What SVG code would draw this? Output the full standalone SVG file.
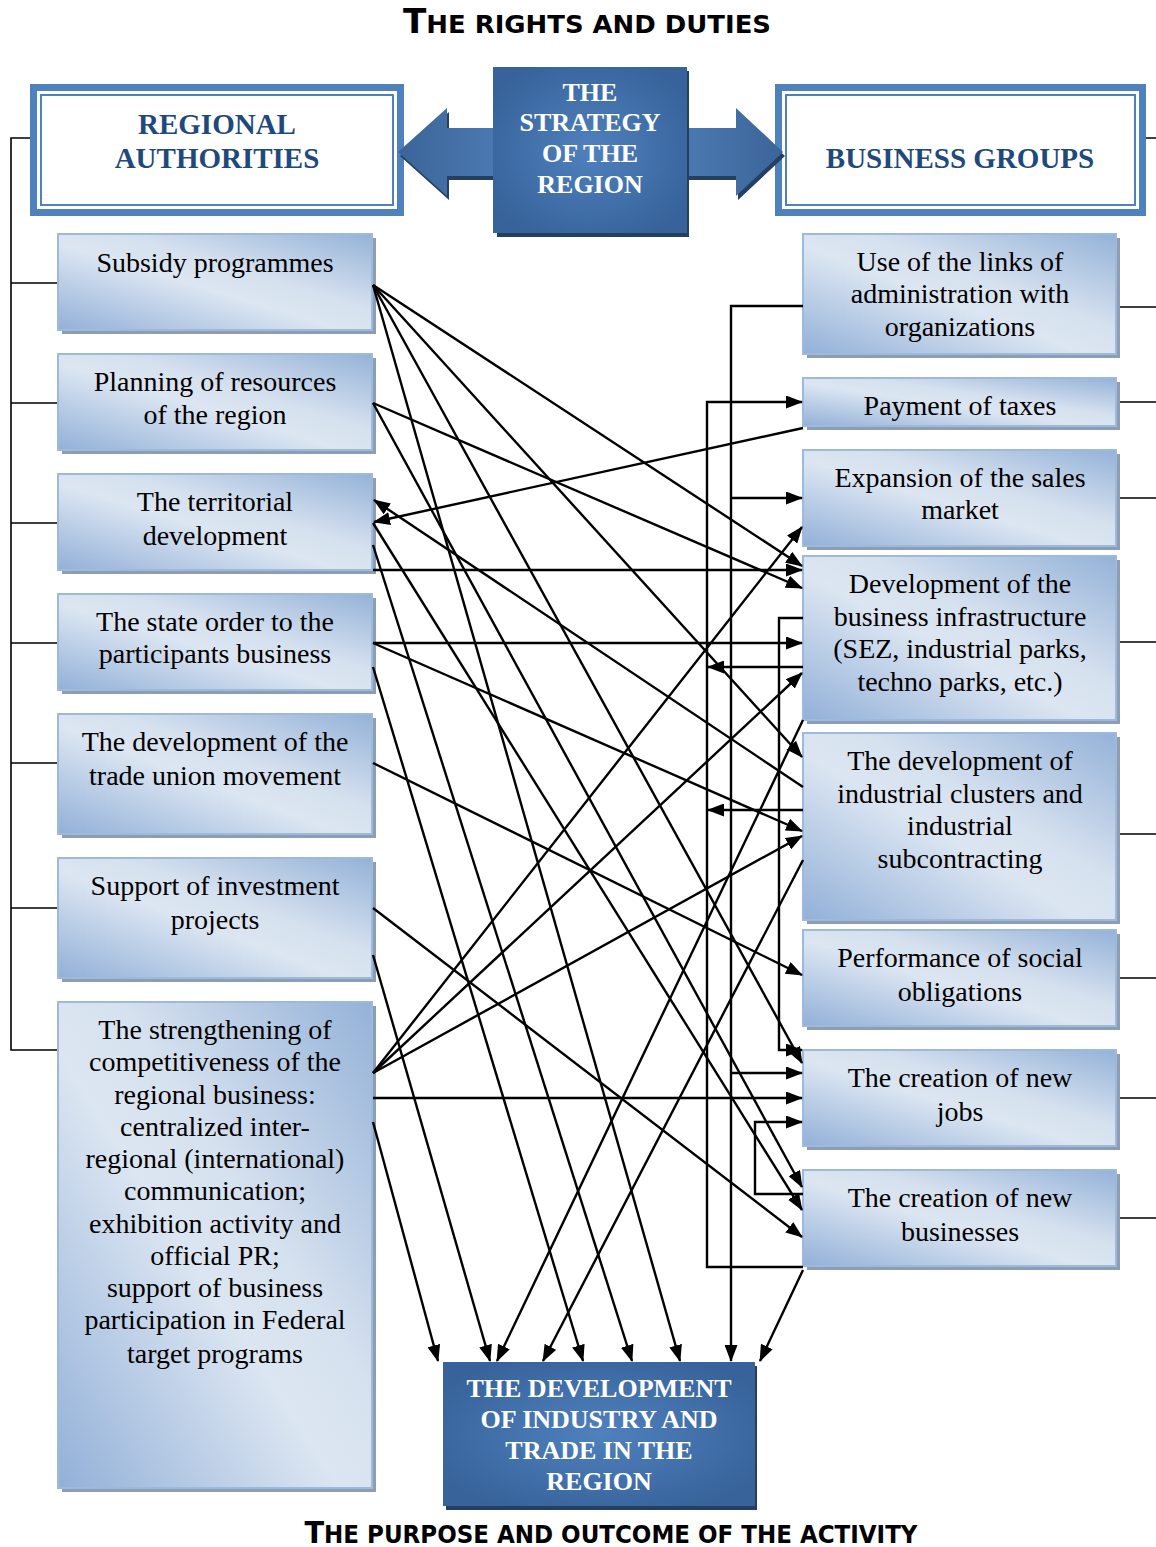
<svg xmlns="http://www.w3.org/2000/svg" width="1156" height="1547" viewBox="0 0 1156 1547">
<style>
.lt{font-family:"Liberation Serif","Times New Roman",serif;font-size:28px;fill:#000;text-anchor:middle}
.hd{font-family:"Liberation Serif","Times New Roman",serif;font-weight:bold;font-size:29px;fill:#1f497d;text-anchor:middle}
.wt{font-family:"Liberation Serif","Times New Roman",serif;font-weight:bold;font-size:26px;fill:#fff;text-anchor:middle}
.cap{font-family:"Liberation Sans Narrow","DejaVu Sans Condensed","Liberation Sans",sans-serif;font-weight:bold;fill:#000;text-anchor:middle}
.sh{fill:#8c9db5}
.bx{fill:url(#lg);stroke:#9db9dc;stroke-width:2}
.c{stroke:#000;stroke-width:2.4;fill:none}
.ca{marker-end:url(#ah)}
.br{stroke:#000;stroke-width:1.6;fill:none}
</style>
<defs>
<linearGradient id="lg" x1="0" y1="1" x2="1" y2="0">
<stop offset="0" stop-color="#92b0d8"/>
<stop offset="0.45" stop-color="#dce6f2"/>
<stop offset="0.6" stop-color="#d6e1ef"/>
<stop offset="1" stop-color="#94b2d8"/>
</linearGradient>
<radialGradient id="rg" cx="0.5" cy="0.5" r="0.6">
<stop offset="0" stop-color="#4f81bd"/>
<stop offset="1" stop-color="#37629a"/>
</radialGradient>
<linearGradient id="ag" x1="0" y1="0" x2="1" y2="0">
<stop offset="0" stop-color="#3b6599"/>
<stop offset="0.5" stop-color="#5a8bc7"/>
<stop offset="1" stop-color="#3b6599"/>
</linearGradient>
<marker id="ah" markerUnits="userSpaceOnUse" markerWidth="17" markerHeight="13" refX="16" refY="6.5" orient="auto">
<path d="M0,0 L17,6.5 L0,13 z" fill="#000"/>
</marker>
</defs>

<text class="cap" x="587" y="33" textLength="368" lengthAdjust="spacingAndGlyphs"><tspan font-size="33">T</tspan><tspan font-size="25">HE RIGHTS AND DUTIES</tspan></text>
<text class="cap" x="611" y="1543" textLength="613" lengthAdjust="spacingAndGlyphs"><tspan font-size="30">T</tspan><tspan font-size="24">HE PURPOSE AND OUTCOME OF THE ACTIVITY</tspan></text>

<g id="bracket-left">
<path class="br" d="M30,138 H11 V1050 H58 M11,283 H58 M11,403 H58 M11,523 H58 M11,643 H58 M11,763 H58 M11,908 H58"/>
</g>
<g id="ticks-right">
<path class="br" d="M1146,138 H1156 M1118,307 H1156 M1118,402 H1156 M1118,498 H1156 M1118,642 H1156 M1118,834 H1156 M1118,978 H1156 M1118,1098 H1156 M1118,1218 H1156"/>
</g>

<g id="regional-authorities">
<rect x="30" y="84" width="374" height="132" fill="#4f81bd"/>
<rect x="37" y="91" width="360" height="118" fill="#fff"/>
<rect x="41" y="95" width="352" height="110" fill="#fff" stroke="#4f81bd" stroke-width="2"/>
<text class="hd" x="217" y="134">REGIONAL</text>
<text class="hd" x="217" y="168">AUTHORITIES</text>
</g>
<g id="business-groups">
<rect x="775" y="84" width="371" height="132" fill="#4f81bd"/>
<rect x="782" y="91" width="357" height="118" fill="#fff"/>
<rect x="786" y="95" width="349" height="110" fill="#fff" stroke="#4f81bd" stroke-width="2"/>
<text class="hd" x="960" y="168">BUSINESS GROUPS</text>
</g>
<g id="strategy">
<polygon points="400,156 449,112 449,132 738,132 738,112 785,156 738,200 738,180 449,180 449,200" fill="#243f60"/>
<polygon points="398,152 447,108 447,128 736,128 736,108 783,152 736,196 736,176 447,176 447,196" fill="url(#ag)"/>
<rect x="497" y="71" width="192" height="166" fill="#243f60"/>
<rect x="493" y="67" width="194" height="166" fill="url(#rg)"/>
<text class="wt" x="590" y="101">THE</text>
<text class="wt" x="590" y="131">STRATEGY</text>
<text class="wt" x="590" y="162">OF THE</text>
<text class="wt" x="590" y="193">REGION</text>
</g>

<g id="subsidy"><rect class="sh" x="62" y="238" width="314" height="96"/><rect class="bx" x="58" y="234" width="314" height="96"/>
<text class="lt" x="215" y="272">Subsidy programmes</text></g>
<g id="planning"><rect class="sh" x="62" y="358" width="314" height="96"/><rect class="bx" x="58" y="354" width="314" height="96"/>
<text class="lt" x="215" y="391">Planning of resources</text><text class="lt" x="215" y="424">of the region</text></g>
<g id="territorial"><rect class="sh" x="62" y="478" width="314" height="96"/><rect class="bx" x="58" y="474" width="314" height="96"/>
<text class="lt" x="215" y="511">The territorial</text><text class="lt" x="215" y="545">development</text></g>
<g id="state-order"><rect class="sh" x="62" y="598" width="314" height="96"/><rect class="bx" x="58" y="594" width="314" height="96"/>
<text class="lt" x="215" y="631">The state order to the</text><text class="lt" x="215" y="663">participants business</text></g>
<g id="trade-union"><rect class="sh" x="62" y="718" width="314" height="120"/><rect class="bx" x="58" y="714" width="314" height="120"/>
<text class="lt" x="215" y="751">The development of the</text><text class="lt" x="215" y="785">trade union movement</text></g>
<g id="support"><rect class="sh" x="62" y="862" width="314" height="120"/><rect class="bx" x="58" y="858" width="314" height="120"/>
<text class="lt" x="215" y="895">Support of investment</text><text class="lt" x="215" y="929">projects</text></g>
<g id="strengthening"><rect class="sh" x="62" y="1006" width="314" height="486"/><rect class="bx" x="58" y="1002" width="314" height="486"/>
<text class="lt" x="215" y="1039">The strengthening of</text>
<text class="lt" x="215" y="1071">competitiveness of the</text>
<text class="lt" x="215" y="1104">regional business:</text>
<text class="lt" x="215" y="1136">centralized inter-</text>
<text class="lt" x="215" y="1168">regional (international)</text>
<text class="lt" x="215" y="1200">communication;</text>
<text class="lt" x="215" y="1233">exhibition activity and</text>
<text class="lt" x="215" y="1265">official PR;</text>
<text class="lt" x="215" y="1297">support of business</text>
<text class="lt" x="215" y="1329">participation in Federal</text>
<text class="lt" x="215" y="1363">target programs</text></g>

<g id="links"><rect class="sh" x="807" y="238" width="313" height="120"/><rect class="bx" x="803" y="234" width="313" height="120"/>
<text class="lt" x="960" y="271">Use of the links of</text><text class="lt" x="960" y="303">administration with</text><text class="lt" x="960" y="336">organizations</text></g>
<g id="taxes"><rect class="sh" x="807" y="382" width="313" height="48"/><rect class="bx" x="803" y="378" width="313" height="48"/>
<text class="lt" x="960" y="415">Payment of taxes</text></g>
<g id="expansion"><rect class="sh" x="807" y="454" width="313" height="96"/><rect class="bx" x="803" y="450" width="313" height="96"/>
<text class="lt" x="960" y="487">Expansion of the sales</text><text class="lt" x="960" y="519">market</text></g>
<g id="infrastructure"><rect class="sh" x="807" y="560" width="313" height="164"/><rect class="bx" x="803" y="556" width="313" height="164"/>
<text class="lt" x="960" y="593">Development of the</text><text class="lt" x="960" y="626">business infrastructure</text><text class="lt" x="960" y="658">(SEZ, industrial parks,</text><text class="lt" x="960" y="691">techno parks, etc.)</text></g>
<g id="clusters"><rect class="sh" x="807" y="737" width="313" height="187"/><rect class="bx" x="803" y="733" width="313" height="187"/>
<text class="lt" x="960" y="770">The development of</text><text class="lt" x="960" y="803">industrial clusters and</text><text class="lt" x="960" y="835">industrial</text><text class="lt" x="960" y="868">subcontracting</text></g>
<g id="social"><rect class="sh" x="807" y="934" width="313" height="96"/><rect class="bx" x="803" y="930" width="313" height="96"/>
<text class="lt" x="960" y="967">Performance of social</text><text class="lt" x="960" y="1001">obligations</text></g>
<g id="new-jobs"><rect class="sh" x="807" y="1054" width="313" height="96"/><rect class="bx" x="803" y="1050" width="313" height="96"/>
<text class="lt" x="960" y="1087">The creation of new</text><text class="lt" x="960" y="1121">jobs</text></g>
<g id="new-businesses"><rect class="sh" x="807" y="1174" width="313" height="96"/><rect class="bx" x="803" y="1170" width="313" height="96"/>
<text class="lt" x="960" y="1207">The creation of new</text><text class="lt" x="960" y="1241">businesses</text></g>

<g id="development">
<rect x="446" y="1366" width="311" height="144" fill="#243f60"/>
<rect x="443" y="1362" width="312" height="144" fill="url(#rg)"/>
<text class="wt" x="599" y="1397">THE DEVELOPMENT</text>
<text class="wt" x="599" y="1428">OF INDUSTRY AND</text>
<text class="wt" x="599" y="1459">TRADE IN THE</text>
<text class="wt" x="599" y="1490">REGION</text>
</g>

<g id="connectors">
<path class="c ca" d="M373,285 L802,566"/>
<path class="c ca" d="M373,285 L802,757"/>
<path class="c ca" d="M373,285 L802,1063"/>
<path class="c ca" d="M373,285 L680,1361"/>
<path class="c ca" d="M373,403 L802,588"/>
<path class="c ca" d="M373,403 L802,1187"/>
<path class="c ca" d="M373,570 L802,570"/>
<path class="c ca" d="M373,545 L632,1361"/>
<path class="c ca" d="M373,523 L802,1210"/>
<path class="c ca" d="M803,428 L374,522"/>
<path class="c ca" d="M803,787 L374,500"/>
<path class="c ca" d="M373,643 L802,643"/>
<path class="c ca" d="M373,643 L802,831"/>
<path class="c ca" d="M373,667 L583,1361"/>
<path class="c ca" d="M373,763 L802,975"/>
<path class="c ca" d="M373,908 L802,1237"/>
<path class="c ca" d="M373,955 L490,1361"/>
<path class="c ca" d="M373,1073 L802,527"/>
<path class="c ca" d="M373,1073 L802,673"/>
<path class="c ca" d="M373,1073 L802,836"/>
<path class="c ca" d="M373,1098 L802,1098"/>
<path class="c ca" d="M373,1122 L438,1361"/>
<path class="c ca" d="M803,720 L497,1361"/>
<path class="c ca" d="M803,860 L543,1361"/>
<path class="c ca" d="M803,1270 L760,1361"/>
<path class="c ca" d="M803,667 L708,667"/>
<path class="c ca" d="M803,810 L708,810"/>
<path class="c ca" d="M803,1267 H707 V402 H802"/>
<path class="c ca" d="M803,306 H731 V1361"/>
<path class="c ca" d="M731,498 H802"/>
<path class="c ca" d="M731,1073 H802"/>
<path class="c ca" d="M803,618 H779 V1050 H802"/>
<path class="c ca" d="M803,1194 H755 V1122 H802"/>
</g>
</svg>
